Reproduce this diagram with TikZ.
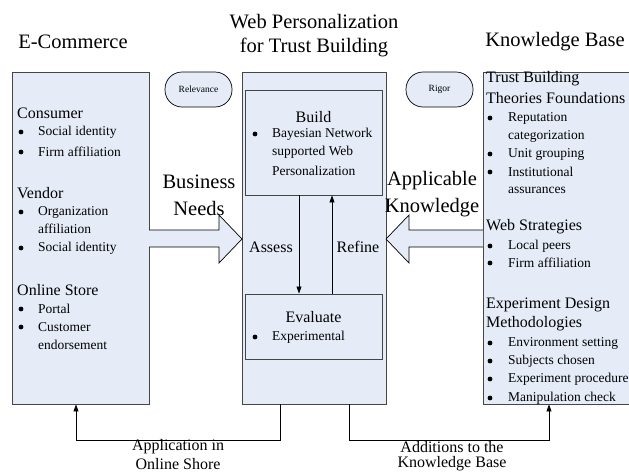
\documentclass[tikz,border=0pt]{standalone}
\usepackage{fontspec}
\setmainfont{Liberation Serif}
\usetikzlibrary{arrows.meta,calc}
\definecolor{boxfill}{HTML}{E6ECF7}
\definecolor{boxline}{HTML}{454545}
\tikzset{
  panel/.style={draw=boxline, fill=boxfill, line width=0.9pt, rectangle, inner sep=0},
  oval/.style={draw=black, fill=boxfill, line width=0.7pt, rounded corners=17pt, inner sep=0, font=\fontsize{9.5}{11}\selectfont},
  blockarrow/.style={draw=black, fill=boxfill, line width=0.7pt},
  conn/.style={draw=black, line width=0.7pt, -{Triangle[length=7pt,width=5pt]}},
  title/.style={font=\fontsize{20.5}{24}\selectfont, inner sep=0},
  big/.style={font=\fontsize{20.5}{24}\selectfont, inner sep=0},
  head/.style={font=\fontsize{16}{18}\selectfont, anchor=west, inner sep=0},
  ctext/.style={font=\fontsize{16}{18}\selectfont, inner sep=0},
  item/.style={font=\fontsize{13.5}{16}\selectfont, anchor=west, inner sep=0},
}
\newcommand\bitem[5]{\fill (#2,#4) circle (2.4); \node[item] (#1) at (#3,#4) {#5};}
\begin{document}
\begin{tikzpicture}[x=1pt,y=-1pt]
\useasboundingbox (0,0) rectangle (629,474);
% titles
\node[title] (t1) at (73,42) {E-Commerce};
\node[title] (t2) at (314,22) {Web Personalization};
\node[title] (t3) at (314,47) {for Trust Building};
\node[title] (t4) at (555,42) {Knowledge Base};
% panels
\node[panel, minimum width=137pt, minimum height=332pt] (ecom) at (80.5,238) {};
\node[panel, minimum width=144pt, minimum height=332pt] (wp) at (314,238) {};
\node[panel, minimum width=160pt, minimum height=332pt] (kb) at (563,238) {};
\node[panel, minimum width=137pt, minimum height=105pt] (build) at (313.5,142.5) {};
\node[panel, minimum width=137pt, minimum height=65pt] (eval) at (313.5,326.5) {};
% ovals
\node[oval, minimum width=67pt, minimum height=35pt] (rel) at (198.5,89.5) {Relevance};
\node[oval, minimum width=67pt, minimum height=35pt] (rig) at (439.5,89.5) {Rigor};
% block arrows
\draw[blockarrow] (149,230) -- (219,230) -- (219,215) -- (242,239) -- (219,263) -- (219,247) -- (149,247);
\draw[blockarrow] (483,230) -- (409,230) -- (409,215) -- (386,239) -- (409,263) -- (409,247) -- (483,247);
\node[big] (bn1) at (199,182) {Business};
\node[big] (bn2) at (199,208) {Needs};
\node[big] (ak1) at (432,181) {Applicable};
\node[big] (ak2) at (432,208) {Knowledge};
% left contents
\node[head] (consumer) at (17,113) {Consumer};
\bitem{l1}{21}{38}{132}{Social identity}
\bitem{l2}{21}{38}{152}{Firm affiliation}
\node[head] (vendor) at (17,193) {Vendor};
\bitem{l3}{21}{38}{212}{Organization}
\node[item] (l3b) at (38,229) {affiliation};
\bitem{l4}{21}{38}{248}{Social identity}
\node[head] (store) at (17,290) {Online Store};
\bitem{l5}{21}{38}{309}{Portal}
\bitem{l6}{21}{38}{327}{Customer}
\node[item] (l6b) at (38,345) {endorsement};
% middle contents
\node[ctext] (buildt) at (313.5,117) {Build};
\bitem{m1}{255}{272}{134}{Bayesian Network}
\node[item] (m1b) at (272,152) {supported Web};
\node[item] (m1c) at (272,171) {Personalization};
\node[ctext] (evalt) at (313.5,317) {Evaluate};
\bitem{m2}{255}{272}{337}{Experimental}
% inner arrows
\draw[conn] ($(build.south)+(-14.5,0)$) -- ($(eval.north)+(-14.5,0)$);
\draw[conn] ($(eval.north)+(18.5,0)$) -- ($(build.south)+(18.5,0)$);
\node[ctext] (assess) at (271,247) {Assess};
\node[ctext] (refine) at (358,247) {Refine};
% right contents
\node[head] (r0) at (486,79) {Trust Building};
\node[head] (r0b) at (486,98) {Theories Foundations};
\bitem{r1}{490}{508}{118}{Reputation}
\node[item] (r1b) at (508,136) {categorization};
\bitem{r2}{490}{508}{154}{Unit grouping}
\bitem{r3}{490}{508}{172}{Institutional}
\node[item] (r3b) at (508,190) {assurances};
\node[head] (ws) at (486,227) {Web Strategies};
\bitem{r4}{490}{508}{246}{Local peers}
\bitem{r5}{490}{508}{263}{Firm affiliation}
\node[head] (ed) at (486,305) {Experiment Design};
\node[head] (edb) at (486,324) {Methodologies};
\bitem{r6}{490}{508}{343}{Environment setting}
\bitem{r7}{490}{508}{361}{Subjects chosen}
\bitem{r8}{490}{508}{379}{Experiment procedure}
\bitem{r9}{490}{508}{398}{Manipulation check}
% bottom connectors
\draw[conn] ($(wp.south)+(-34,0)$) -- ++(0,36) -| ($(ecom.south)+(-4.5,0)$);
\draw[conn] ($(wp.south)+(35,0)$) -- ++(0,36) -| ($(kb.south)+(-14,0)$);
\node[ctext] (ap1) at (178,447) {Application in};
\node[ctext] (ap2) at (178,464) {Online Shore};
\node[ctext] (ad1) at (452,447) {Additions to the};
\node[ctext] (ad2) at (452,464) {Knowledge Base};
\end{tikzpicture}
\end{document}
